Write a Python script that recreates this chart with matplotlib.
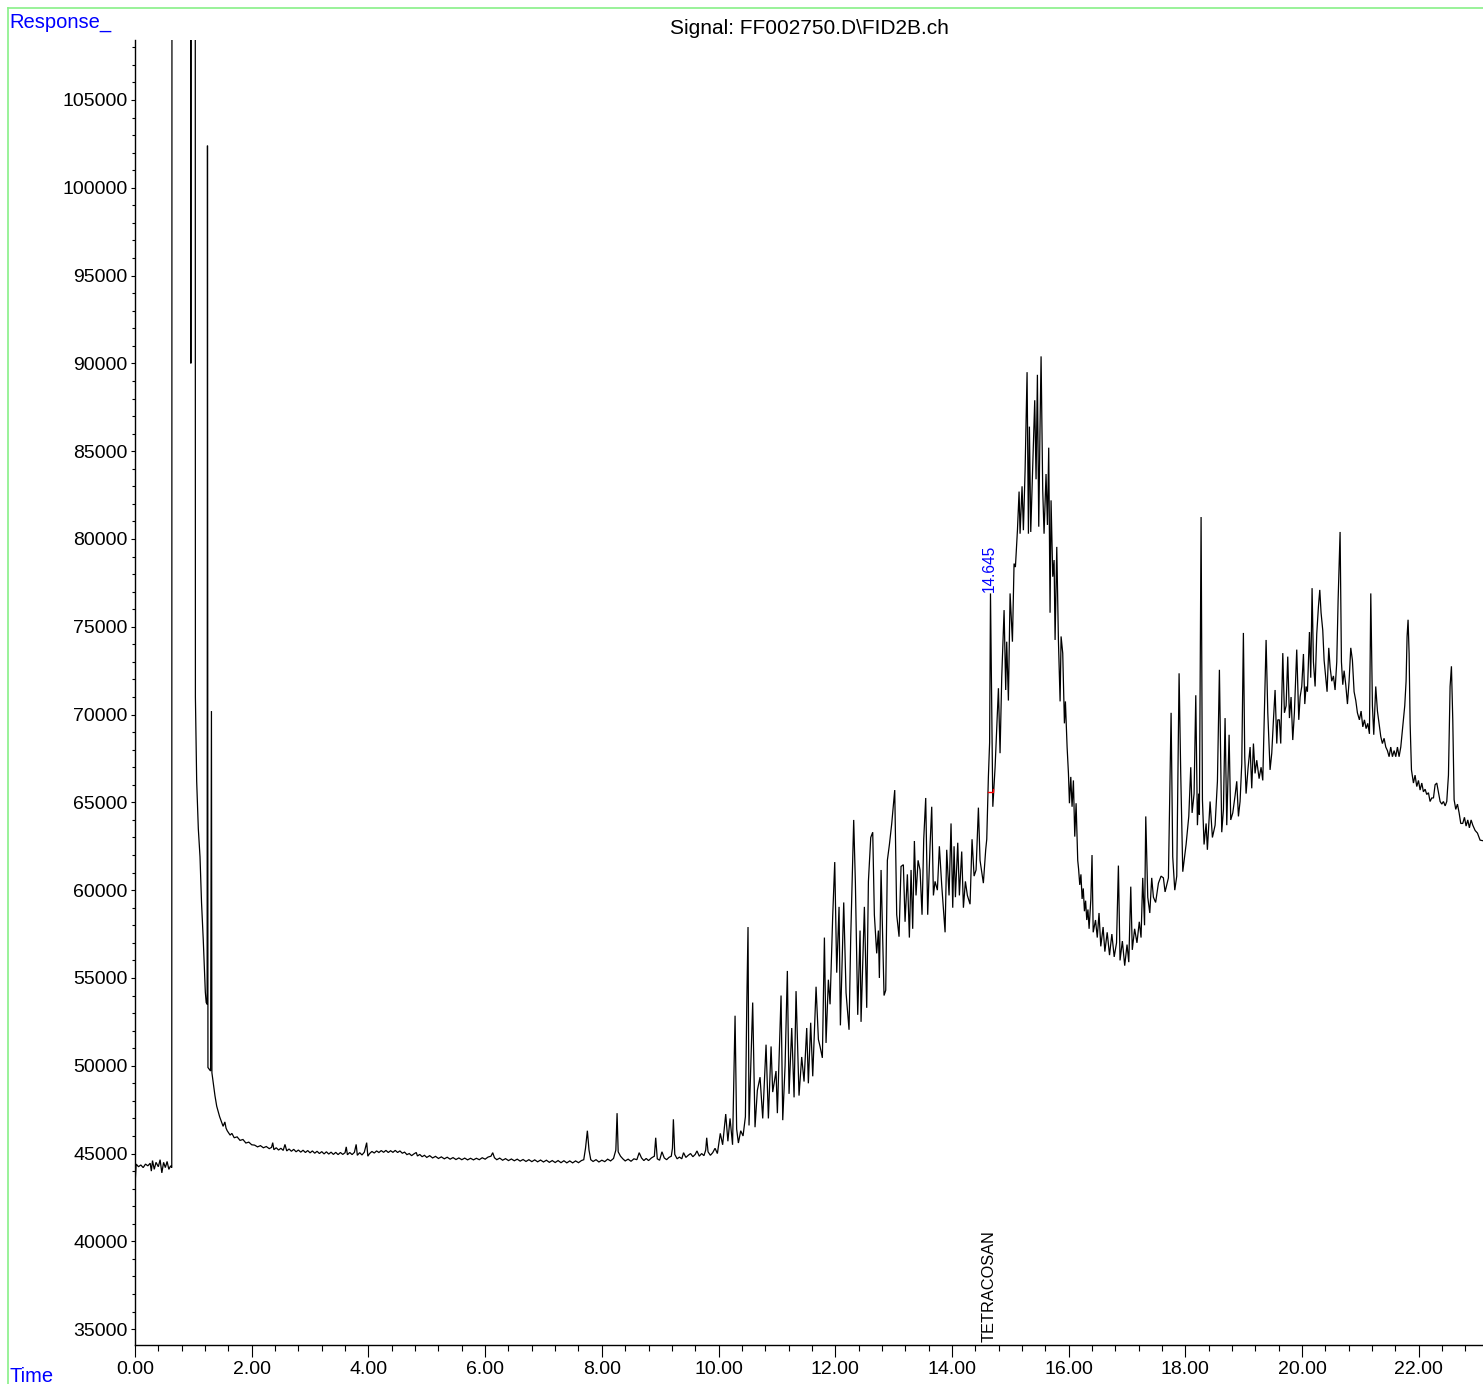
import matplotlib
matplotlib.use('Agg')
import matplotlib.pyplot as plt
from matplotlib.ticker import MultipleLocator, FormatStrFormatter
from matplotlib.lines import Line2D
import matplotlib.transforms as mtransforms

plt.rcParams['font.family'] = ['Liberation Sans', 'DejaVu Sans']

# ---------------- data (time in min, response) ----------------
# solvent front / early region (values of 250000 are off-scale, clipped)
t_early = [0.00, 0.005, 0.02, 0.06, 0.10, 0.14, 0.18, 0.22, 0.26, 0.28, 0.30, 0.33, 0.36,
           0.40, 0.43, 0.46, 0.49, 0.52, 0.55, 0.58, 0.61, 0.63, 0.64, 0.950, 0.957, 0.965,
           1.025, 1.035, 1.057, 1.085, 1.114, 1.14, 1.17, 1.19, 1.205, 1.22, 1.236, 1.242,
           1.250, 1.295, 1.310, 1.318, 1.342, 1.37, 1.40, 1.45, 1.51, 1.54, 1.56, 1.58, 1.63,
           1.66, 1.70, 1.75, 1.80, 1.85, 1.90, 1.95, 2.00]
r_early = [44300, 43500, 44400, 44250, 44350, 44200, 44400, 44300, 44450, 44000, 44600, 44100, 44500,
           44250, 44650, 43900, 44500, 44200, 44550, 44100, 44300, 44200, 250000, 250000, 90000, 250000,
           250000, 71000, 66200, 63500, 61900, 59300, 57150, 55500, 54200, 53600, 53500, 102400,
           49900, 49700, 70200, 49600, 49000, 48300, 47700, 47100, 46550, 46800, 46450, 46300, 46050,
           46150, 45900, 45950, 45750, 45800, 45600, 45650, 45500]

# flat baseline 2-10 min with small peaks
t_base = [2.05, 2.10, 2.15, 2.20, 2.25, 2.30, 2.34, 2.36, 2.38, 2.42, 2.46, 2.50, 2.54, 2.57, 2.60,
          2.64, 2.68, 2.72, 2.76, 2.80, 2.84, 2.88, 2.92, 2.96, 3.00, 3.04, 3.08, 3.12, 3.16, 3.20,
          3.24, 3.28, 3.32, 3.36, 3.40, 3.44, 3.48, 3.52, 3.56, 3.60, 3.62, 3.64, 3.68, 3.72, 3.76,
          3.79, 3.81, 3.85, 3.89, 3.93, 3.97, 3.99, 4.02, 4.06, 4.10, 4.14, 4.18, 4.22, 4.26, 4.30,
          4.34, 4.38, 4.42, 4.46, 4.50, 4.54, 4.58, 4.62, 4.66, 4.70, 4.74, 4.78, 4.82, 4.84, 4.88,
          4.92, 4.96, 5.00, 5.05, 5.10, 5.15, 5.20, 5.25, 5.30, 5.35, 5.40, 5.45, 5.50, 5.55, 5.60,
          5.65, 5.70, 5.75, 5.80, 5.85, 5.90, 5.95, 6.00, 6.05, 6.10, 6.13, 6.16, 6.20, 6.25, 6.30,
          6.35, 6.40, 6.45, 6.50, 6.55, 6.60, 6.65, 6.70, 6.75, 6.80, 6.85, 6.90, 6.95, 7.00, 7.05,
          7.10, 7.15, 7.20, 7.25, 7.30, 7.35, 7.40, 7.45, 7.50, 7.55, 7.60, 7.65, 7.69, 7.72, 7.752,
          7.78, 7.81, 7.85, 7.90, 7.95, 8.00, 8.05, 8.10, 8.15, 8.20, 8.24, 8.261, 8.28, 8.32, 8.36,
          8.40, 8.45, 8.50, 8.55, 8.60, 8.64, 8.68, 8.72, 8.76, 8.80, 8.85, 8.90, 8.923, 8.95, 8.99,
          9.03, 9.07, 9.11, 9.15, 9.19, 9.21, 9.226, 9.25, 9.29, 9.33, 9.37, 9.40, 9.44, 9.48, 9.52,
          9.56, 9.60, 9.63, 9.67, 9.71, 9.75, 9.78, 9.797, 9.82, 9.86, 9.90, 9.94, 9.98]
r_base = [45480, 45380, 45450, 45330, 45400, 45280, 45350, 45620, 45220, 45330, 45200, 45300, 45180, 45520, 45150,
          45260, 45130, 45240, 45100, 45200, 45080, 45190, 45060, 45170, 45040, 45150, 45020, 45130, 45000, 45110,
          44980, 45100, 44970, 45080, 44950, 45070, 44940, 45060, 44950, 45050, 45380, 44930, 45060, 44940, 45070,
          45520, 44900, 45050, 44920, 45080, 45620, 44850, 45000, 45120, 45030, 45150, 45060, 45170, 45070, 45180,
          45060, 45160, 45070, 45180, 45060, 45150, 45020, 45080, 44940, 45000, 44880, 44980, 45060, 44860, 44950,
          44820, 44900, 44780, 44880, 44750, 44840, 44720, 44810, 44700, 44790, 44680, 44770, 44660, 44750, 44650,
          44740, 44640, 44730, 44640, 44730, 44650, 44760, 44680, 44800, 44850, 45050, 44760, 44650, 44740, 44620,
          44710, 44600, 44690, 44590, 44680, 44570, 44660, 44550, 44650, 44540, 44640, 44530, 44630, 44520, 44620,
          44500, 44600, 44490, 44600, 44480, 44590, 44470, 44580, 44470, 44580, 44480, 44600, 44650, 45300, 46300,
          45200, 44650, 44550, 44650, 44520, 44620, 44540, 44680, 44580, 44720, 45200, 47300, 45100, 44850, 44700,
          44580, 44680, 44560, 44700, 44650, 45050, 44750, 44600, 44720, 44600, 44750, 44850, 45900, 44700, 44620,
          45100, 44750, 44650, 44780, 44850, 45300, 46950, 44950, 44700, 44800, 44700, 45050, 44780, 44900, 45000,
          44820, 44950, 45150, 44850, 45000, 44880, 45200, 45900, 45100, 44900, 45050, 45300, 45000]

# rising hump 10-14.6 min
t_rise = [10.03, 10.07, 10.123, 10.16, 10.197, 10.24, 10.283, 10.31, 10.34, 10.38, 10.42, 10.46, 10.483,
          10.505, 10.522, 10.585, 10.625, 10.665, 10.711, 10.757, 10.814, 10.854, 10.90, 10.928, 10.985,
          11.008, 11.071, 11.10, 11.14, 11.179, 11.208, 11.254, 11.294, 11.328, 11.379, 11.425, 11.465,
          11.511, 11.539, 11.579, 11.614, 11.671, 11.711, 11.739, 11.779, 11.814, 11.842, 11.882, 11.911,
          11.956, 11.991, 12.025, 12.065, 12.088, 12.145, 12.185, 12.236, 12.265, 12.316, 12.345, 12.385,
          12.425, 12.442, 12.499, 12.539, 12.568, 12.608, 12.642, 12.67, 12.71, 12.739, 12.756, 12.785,
          12.836, 12.865, 12.893, 12.928, 12.968, 13.019, 13.053, 13.093, 13.127, 13.167, 13.196, 13.236,
          13.27, 13.299, 13.327, 13.356, 13.384, 13.419, 13.453, 13.487, 13.516, 13.55, 13.584, 13.624,
          13.653, 13.682, 13.71, 13.75, 13.784, 13.824, 13.882, 13.91, 13.95, 13.984, 14.013, 14.036,
          14.059, 14.099, 14.127, 14.167, 14.196, 14.23, 14.264, 14.31, 14.344, 14.379, 14.413, 14.453,
          14.481, 14.538, 14.578, 14.596]
r_rise = [46150, 45500, 47250, 45700, 47000, 45500, 52850, 46400, 45600, 46300, 46000, 47100, 53300,
          57900, 46600, 53600, 46500, 48600, 49350, 47000, 51200, 47000, 51100, 48500, 49700,
          47300, 54000, 46900, 50000, 55400, 48400, 52150, 48200, 54250, 48300, 50500, 49100,
          52150, 49000, 52450, 49400, 54500, 51500, 51100, 50450, 57300, 51300, 54900, 53500,
          58500, 61600, 55300, 59050, 52300, 59300, 54150, 52050, 57300, 64000, 60400, 52900,
          57700, 52500, 59050, 53300, 60500, 63000, 63300, 58600, 56400, 57700, 55000, 61150,
          54000, 54300, 61700, 62600, 63800, 65700, 58600, 57350, 61350, 61450, 58200, 60900,
          57300, 61150, 57800, 62800, 59700, 61700, 61150, 58600, 62900, 65250, 58600, 62500,
          64750, 59700, 60500, 60000, 62500, 60300, 57600, 62300, 59700, 63800, 59000, 62500,
          59600, 62700, 59700, 62200, 59000, 60500, 59700, 59200, 62900, 60800, 61150, 64700,
          61700, 60400, 62300, 62900]

# main hump 14.6-16.2 min
t_hump = [14.624, 14.645, 14.66, 14.70, 14.739, 14.796, 14.824, 14.853, 14.893, 14.921, 14.938, 14.967,
          14.996, 15.036, 15.064, 15.087, 15.122, 15.15, 15.167, 15.201, 15.224, 15.253, 15.287, 15.31,
          15.327, 15.35, 15.384, 15.418, 15.441, 15.464, 15.487, 15.51, 15.527, 15.555, 15.578, 15.612,
          15.636, 15.658, 15.681, 15.698, 15.727, 15.75, 15.767, 15.796, 15.824, 15.853, 15.87, 15.898,
          15.927, 15.944, 15.973, 15.996, 16.013, 16.036, 16.058, 16.081, 16.104, 16.127, 16.155]
r_hump = [66450, 68400, 76900, 64750, 67000, 71500, 67800, 72150, 75950, 71400, 74150, 70800,
          76900, 74150, 78600, 78400, 80500, 82700, 80300, 83000, 80500, 83900, 89500, 80300,
          86400, 80400, 84200, 87900, 83400, 89350, 80700, 86600, 90400, 82800, 80300, 83700,
          80800, 85200, 75800, 82200, 77850, 78800, 74250, 79550, 74250, 70750, 74450, 73500,
          69500, 70750, 68150, 66650, 64950, 66450, 64750, 66250, 63050, 64950, 61700]

# valley 16.2-17.7 min
t_valley = [16.17, 16.19, 16.21, 16.23, 16.25, 16.27, 16.29, 16.31, 16.33, 16.35, 16.38, 16.40, 16.42,
            16.46, 16.49, 16.52, 16.55, 16.59, 16.62, 16.66, 16.70, 16.74, 16.78, 16.82, 16.852, 16.88,
            16.92, 16.96, 17.00, 17.03, 17.064, 17.09, 17.13, 17.17, 17.21, 17.24, 17.269, 17.30, 17.321,
            17.355, 17.39, 17.423, 17.452, 17.49, 17.538, 17.583, 17.623, 17.652, 17.68, 17.709]
r_valley = [61200, 60300, 60900, 59500, 60100, 58800, 59400, 58300, 58900, 57800, 59500, 62000, 57600,
            58300, 57300, 58700, 56800, 57900, 56500, 57600, 56300, 57500, 56200, 57000, 61400, 56000,
            57100, 55700, 56900, 55900, 60200, 56600, 57800, 57000, 58200, 57300, 60700, 58000, 64200,
            59600, 58700, 60700, 59600, 59300, 60400, 60800, 60700, 59900, 60300, 60700]

# second hump 17.7-23.1 min
t_late = [17.755, 17.783, 17.818, 17.852, 17.892, 17.92, 17.955, 18.012, 18.058, 18.092, 18.115, 18.149,
          18.178, 18.206, 18.229, 18.24, 18.269, 18.292, 18.32, 18.355, 18.377, 18.423, 18.463, 18.509,
          18.549, 18.583, 18.623, 18.652, 18.68, 18.709, 18.749, 18.777, 18.812, 18.852, 18.88, 18.909,
          18.937, 18.966, 18.994, 19.017, 19.04, 19.074, 19.109, 19.137, 19.166, 19.194, 19.223, 19.263,
          19.297, 19.326, 19.366, 19.383, 19.412, 19.451, 19.48, 19.509, 19.537, 19.566, 19.583, 19.611,
          19.634, 19.669, 19.697, 19.726, 19.754, 19.783, 19.811, 19.84, 19.868, 19.908, 19.943, 19.966,
          19.994, 20.023, 20.046, 20.068, 20.091, 20.126, 20.148, 20.171, 20.194, 20.223, 20.251, 20.28,
          20.303, 20.325, 20.354, 20.377, 20.405, 20.428, 20.457, 20.48, 20.508, 20.537, 20.565, 20.594,
          20.617, 20.651, 20.674, 20.697, 20.72, 20.748, 20.777, 20.805, 20.834, 20.862, 20.891, 20.92,
          20.948, 20.982, 21.011, 21.04, 21.068, 21.097, 21.125, 21.154, 21.177, 21.205, 21.228, 21.262,
          21.291, 21.319, 21.348, 21.376, 21.405, 21.434, 21.462, 21.491, 21.519, 21.548, 21.577, 21.605,
          21.634, 21.662, 21.691, 21.725, 21.759, 21.782, 21.799, 21.816, 21.834, 21.851, 21.874, 21.908,
          21.936, 21.965, 21.994, 22.022, 22.051, 22.079, 22.108, 22.136, 22.165, 22.193, 22.222, 22.251,
          22.279, 22.308, 22.336, 22.365, 22.394, 22.422, 22.451, 22.479, 22.508, 22.536, 22.559, 22.582,
          22.605, 22.633, 22.662, 22.691, 22.719, 22.753, 22.782, 22.81, 22.839, 22.867, 22.896, 22.925,
          22.965, 23.005, 23.05, 23.12]
r_late = [70100, 61900, 60000, 60800, 72350, 66650, 61050, 62600, 64200, 67000, 64400, 65500,
          71100, 63700, 65500, 64300, 81250, 65150, 62600, 63800, 62300, 65050, 63000, 63700,
          66200, 72550, 63300, 64600, 69800, 63700, 68850, 64000, 64400, 65400, 66200, 64200,
          65050, 67200, 74650, 67600, 65500, 66950, 68150, 65800, 68350, 66650, 67400, 66350,
          67000, 66250, 71800, 74250, 70100, 66850, 67800, 69700, 71400, 68350, 69700, 69700,
          68350, 73500, 70100, 70500, 73300, 69800, 71000, 68550, 70100, 73700, 69700, 71000,
          71600, 73450, 70600, 71600, 71300, 74700, 72100, 77200, 73000, 71600, 74600, 76150,
          77100, 75800, 74800, 73100, 72100, 71300, 73800, 72700, 71900, 72200, 71400, 73000,
          76500, 80400, 73000, 71700, 72500, 71700, 70600, 71900, 73800, 73100, 71300, 70800,
          70100, 69700, 70200, 69300, 69700, 69200, 69500, 68900, 76900, 70500, 68850, 71600,
          70200, 69500, 68750, 68350, 68650, 68150, 67950, 67600, 68150, 67600, 67950, 67600,
          68150, 67600, 68150, 69300, 70500, 71900, 74450, 75400, 73450, 69500, 66850, 66100,
          66550, 65900, 66250, 65700, 66100, 65600, 65750, 65450, 65550, 65050, 65250, 65250,
          66000, 66100, 65600, 65050, 64900, 65050, 64800, 65050, 66550, 71600, 72750, 69700,
          65150, 64600, 64900, 64400, 63800, 63800, 64150, 63650, 64000, 63550, 64000, 63700,
          63400, 63250, 62850, 62800]

time_min = t_early + t_base + t_rise + t_hump + t_valley + t_late
response = r_early + r_base + r_rise + r_hump + r_valley + r_late

peak_rt = 14.645
peak_height = 76900
peak_label = "14.645"
compound = "TETRACOSAN"
bl_t = [14.624, 14.71, 14.71]
bl_r = [65570, 65570, 65780]

x_range = (0.0, 23.10)
y_range = (34097, 108417)

# ---------------- figure ----------------
W, H = 1483, 1384
fig = plt.figure(figsize=(W / 100, H / 100), dpi=100)
ax = fig.add_axes([135 / W, 39 / H, 1348 / W, 1305 / H])

ax.plot(time_min, response, color='black', lw=0.9, solid_joinstyle='miter')
ax.plot(bl_t, bl_r, color='red', lw=1.0)

ax.set_xlim(*x_range)
ax.set_ylim(*y_range)

for s in ('top', 'right'):
    ax.spines[s].set_visible(False)
for s in ('left', 'bottom'):
    ax.spines[s].set_linewidth(1.0)

ax.xaxis.set_major_locator(MultipleLocator(2))
ax.xaxis.set_minor_locator(MultipleLocator(0.4))
ax.xaxis.set_major_formatter(FormatStrFormatter('%.2f'))
ax.yaxis.set_major_locator(MultipleLocator(5000))
ax.yaxis.set_minor_locator(MultipleLocator(1000))
ax.yaxis.set_major_formatter(FormatStrFormatter('%d'))

ax.tick_params(axis='x', which='major', length=8.3, width=0.8, pad=3.5, labelsize=14)
ax.tick_params(axis='x', which='minor', length=4.3, width=0.8)
ax.tick_params(axis='y', which='major', length=3.0, width=0.8, pad=2.3, labelsize=14)
ax.tick_params(axis='y', which='minor', length=2.0, width=0.8)

# peak annotations
ax.annotate(peak_label, xy=(peak_rt, peak_height), xytext=(0, 1), textcoords='offset points',
            rotation=90, ha='center', va='bottom', color='blue', fontsize=11.2)
trans = mtransforms.blended_transform_factory(ax.transData, ax.transAxes)
ax.annotate(compound, xy=(peak_rt, 0), xycoords=trans, xytext=(0, 2), textcoords='offset points',
            rotation=90, ha='center', va='bottom', color='black', fontsize=11.8)

# texts
fig.text(809 / W, 1 - 29 / H, 'Signal: FF002750.D\\FID2B.ch', ha='center', va='center', fontsize=15)
fig.text(9 / W, 1 - 28 / H, 'Response_', ha='left', va='baseline', color='blue', fontsize=14.5)
fig.text(9 / W, 1 - 1382 / H, 'Time', ha='left', va='baseline', color='blue', fontsize=14.5)

# light green frame
green = '#88F088'
fig.add_artist(Line2D([8 / W, 1.0], [1 - 8 / H, 1 - 8 / H], transform=fig.transFigure, color=green, lw=1.2))
fig.add_artist(Line2D([8 / W, 8 / W], [0.0, 1 - 8 / H], transform=fig.transFigure, color=green, lw=1.2))

fig.savefig('out.png', dpi=100)
